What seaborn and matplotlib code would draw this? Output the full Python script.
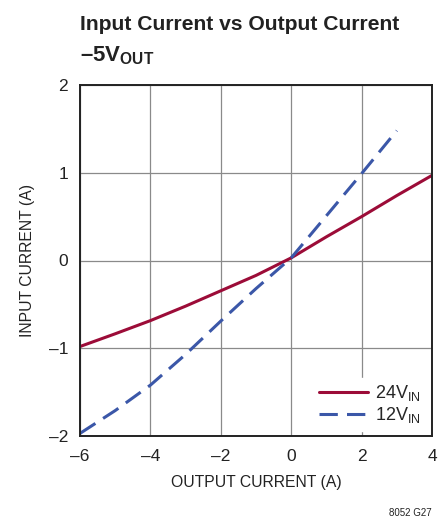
import matplotlib
matplotlib.use("Agg")
import matplotlib.pyplot as plt
import seaborn as sns
import pandas as pd
from matplotlib import font_manager

x24 = [-6, -5, -4, -3, -2, -1, 0, 1, 2, 3, 4]
y24 = [-0.98, -0.835, -0.685, -0.52, -0.345, -0.17, 0.03, 0.27, 0.50, 0.74, 0.97]
x12 = [-6, -5, -4, -3, -2, -1, 0, 1, 2, 3]
y12 = [-1.97, -1.71, -1.42, -1.07, -0.69, -0.32, 0.03, 0.51, 0.99, 1.48]
series_names = ["24V$_\\mathregular{IN}$", "12V$_\\mathregular{IN}$"]
xticks = [-6, -4, -2, 0, 2, 4]
yticks = [-2, -1, 0, 1, 2]

sns.set_theme(style="white")
names = {f.name for f in font_manager.fontManager.ttflist}
fam = "Liberation Sans Narrow" if "Liberation Sans Narrow" in names else "Liberation Sans"
plt.rcParams['font.family'] = [fam, 'DejaVu Sans']
plt.rcParams['mathtext.fontset'] = 'custom'
plt.rcParams['mathtext.rm'] = fam
plt.rcParams['mathtext.bf'] = fam + ':bold'
plt.rcParams['axes.unicode_minus'] = True

df = pd.concat([
    pd.DataFrame({"x": x24, "y": y24, "s": series_names[0]}),
    pd.DataFrame({"x": x12, "y": y12, "s": series_names[1]}),
])

fig = plt.figure(figsize=(4.45, 5.21), dpi=100)
ax = fig.add_axes([0.1798, 0.1631, 0.7910, 0.6738])
sns.lineplot(data=df, x="x", y="y", hue="s", style="s",
             palette=["#9c0c38", "#3b57a8"],
             dashes={series_names[0]: "", series_names[1]: (6, 3)},
             linewidth=2.2, ax=ax, sort=False)

ax.set_xlim(-6, 4)
ax.set_ylim(-2, 2)
ax.set_xticks(xticks)
ax.set_yticks(yticks)
ax.set_xticklabels([f"{t}".replace("-", "\u2013") for t in xticks], fontsize=12.5)
ax.set_yticklabels([f"{t}".replace("-", "\u2013") for t in yticks], fontsize=12.5)
ax.grid(True, color="#8a8a8a", linewidth=0.9)
ax.set_axisbelow(True)
for sp in ax.spines.values():
    sp.set_color("#222222")
    sp.set_linewidth(1.4)
ax.tick_params(axis='x', length=0, pad=9, colors="#222222")
ax.tick_params(axis='y', length=0, pad=8.5, colors="#222222")
ax.set_xlabel("OUTPUT CURRENT (A)", fontsize=11.3, color="#222222", labelpad=8)
ax.set_ylabel("INPUT CURRENT (A)", fontsize=11.3, color="#222222", labelpad=10)

leg = ax.legend(title=None, loc="lower right", frameon=True, fontsize=13,
                handlelength=2.7, handletextpad=0.4, borderpad=0.3,
                labelspacing=0.1, borderaxespad=0.3)
leg.get_frame().set_facecolor("white")
leg.get_frame().set_edgecolor("white")
leg.get_frame().set_alpha(1)

fig.text(0.1798, 0.9535, "Input Current vs Output Current", fontsize=15.2,
         fontweight="bold", ha="left", va="center", color="#222222")
fig.text(0.1798, 0.8935, "\u20135V$_\\mathbf{OUT}$", fontsize=16,
         fontweight="bold", ha="left", va="center", color="#222222")
fig.text(0.9708, 0.016, "8052 G27", fontsize=7, ha="right", va="center",
         color="#222222")

fig.savefig("out.png", dpi=100)
